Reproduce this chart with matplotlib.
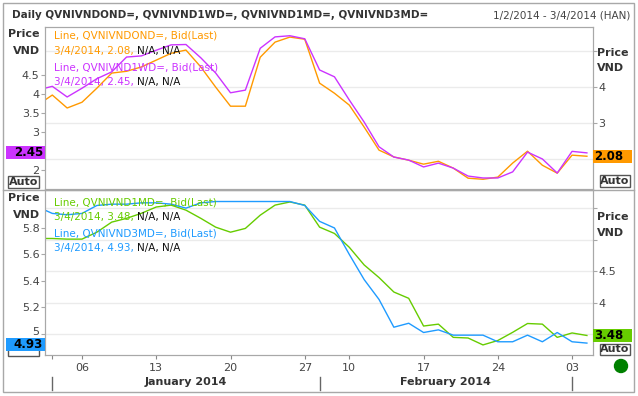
import numpy as np
import matplotlib.pyplot as plt
from matplotlib.patches import Rectangle, Circle
from matplotlib.lines import Line2D
from matplotlib.transforms import IdentityTransform, blended_transform_factory, ScaledTranslation

# trading days (Tet holiday gap between 1/27 and 2/6)
days = ["12/31", "1/2", "1/3", "1/6", "1/7", "1/8", "1/9", "1/10", "1/13", "1/14",
        "1/15", "1/16", "1/17", "1/20", "1/21", "1/22", "1/23", "1/24", "1/27",
        "2/6", "2/7", "2/10", "2/11", "2/12", "2/13", "2/14", "2/17", "2/18",
        "2/19", "2/20", "2/21", "2/24", "2/25", "2/26", "2/27", "2/28", "3/3", "3/4"]

ond = [3.50, 3.78, 3.42, 3.58, 3.97, 4.39, 4.44, 4.56, 4.75, 4.94, 5.03, 4.56, 4.00,
       3.47, 3.47, 4.83, 5.25, 5.39, 5.33, 4.11, 3.83, 3.50, 2.89, 2.25, 2.06, 1.97,
       1.86, 1.94, 1.75, 1.47, 1.44, 1.50, 1.89, 2.22, 1.83, 1.61, 2.11, 2.08]
wd1 = [4.10, 4.20, 3.92, 4.15, 4.40, 4.58, 4.97, 5.00, 5.15, 5.29, 5.30, 4.95, 4.55,
       4.03, 4.10, 5.20, 5.50, 5.53, 5.45, 4.63, 4.45, 3.84, 3.26, 2.61, 2.34, 2.26,
       2.08, 2.18, 2.05, 1.84, 1.79, 1.79, 1.95, 2.47, 2.29, 1.92, 2.49, 2.45]
md1 = [5.02, 5.02, 5.01, 5.01, 5.12, 5.28, 5.34, 5.42, 5.52, 5.55, 5.47, 5.34, 5.20,
       5.12, 5.18, 5.39, 5.55, 5.60, 5.55, 5.20, 5.10, 4.88, 4.60, 4.40, 4.17, 4.07,
       3.63, 3.66, 3.45, 3.44, 3.33, 3.40, 3.53, 3.67, 3.66, 3.45, 3.52, 3.48]
md3 = [5.96, 5.91, 5.90, 5.91, 5.97, 5.98, 5.98, 5.99, 5.99, 5.98, 5.95, 5.99, 6.00,
       6.00, 6.00, 6.00, 6.00, 6.00, 5.97, 5.85, 5.80, 5.60, 5.41, 5.26, 5.05, 5.08,
       5.01, 5.03, 4.99, 4.99, 4.99, 4.94, 4.94, 4.99, 4.94, 5.01, 4.94, 4.93]

week_idx = [3, 8, 13, 18, 21, 26, 31, 36]
week_lbl = ["06", "13", "20", "27", "10", "17", "24", "03"]
month_idx = [1, 19, 36]
months = ["January 2014", "February 2014"]

c_ond, c_wd1, c_md1, c_md3 = "#ff9900", "#cc33ff", "#66cc00", "#1f9bff"
gray = "#a8a8a8"
W, H = 638, 396
x = np.arange(len(days))

fig = plt.figure(figsize=(W / 100, H / 100), dpi=100)

def fr(px, py):
    return px / W, 1 - py / H

def panel(top, bottom):
    l, b = fr(45, bottom)
    ax = fig.add_axes([l, b, 548 / W, (bottom - top) / H])
    axr = ax.twinx()
    ax.set_zorder(2)
    axr.set_zorder(1)
    ax.patch.set_visible(False)
    for a in (ax, axr):
        a.set_xlim(0.508, 37.41)
        a.set_xticks(week_idx)
        a.tick_params(axis="x", length=0, labelbottom=False)
        a.tick_params(axis="y", length=3, color=gray, labelsize=8, labelcolor="#444", pad=1)
        for s in a.spines.values():
            s.set_color(gray)
    axr.grid(True, color="#ebebeb", lw=1)
    return ax, axr

ax1, ax1r = panel(27, 189)
ax2, ax2r = panel(190, 355)

ax1.plot(x, wd1, color=c_wd1, lw=1.0)
ax1r.plot(x, ond, color=c_ond, lw=1.0)
ax2.plot(x, md3, color=c_md3, lw=1.0)
ax2r.plot(x, md1, color=c_md1, lw=1.0)

# labels hidden under the last-value boxes are left blank
ax1.set_ylim(1.5, 5.76)
ax1.set_yticks([2, 2.5, 3, 3.5, 4, 4.5], ["2", "", "3", "3.5", "4", "4.5"])
ax1r.set_ylim(1.17, 5.67)
ax1r.set_yticks([2, 3, 4, 5], ["", "3", "4", ""])
ax2.set_ylim(4.84, 6.087)
ax2.set_yticks([5, 5.2, 5.4, 5.6, 5.8], ["5", "5.2", "5.4", "5.6", "5.8"])
ax2r.set_ylim(3.17, 5.79)
ax2r.set_yticks([3.5, 4, 4.5, 5, 5.5], ["", "4", "4.5", "", ""])

# the "5" label sits a little above its tick, clear of the 4.93 box
lab5 = ax2.get_yticklabels()[0]
lab5.set_transform(lab5.get_transform() + ScaledTranslation(0, 3 / 100, fig.dpi_scale_trans))

# x axis labels under bottom panel
ax2.set_xticks(week_idx + [1], week_lbl + [""])
ax2.tick_params(axis="x", length=3, color="#888", labelbottom=True, labelsize=8,
                labelcolor="#444", pad=3)
bt = blended_transform_factory(ax2.transData, ax2.transAxes)
for i in month_idx:
    ax2.add_line(Line2D([i, i], [-0.133, -0.212], transform=bt, color="#666", lw=1, clip_on=False))
for (a, b), m in zip(zip(month_idx[:-1], month_idx[1:]), months):
    ax2.text((a + b) / 2, -0.164, m, transform=bt, ha="center", va="center",
             fontsize=8, fontweight="bold", color="#333")

# legend texts
def legend(ax, y_top, y_bot, lines):
    for py, (t1, col, t2) in lines:
        yy = (y_bot - py) / (y_bot - y_top)
        t = ax.text((54 - 45) / 548, yy, t1, transform=ax.transAxes, color=col,
                    fontsize=7.5, va="center", zorder=5)
        if t2:
            ax.annotate(t2, xy=(1, 0.5), xycoords=t, va="center", fontsize=7.5,
                        color="#111", zorder=5)

legend(ax1, 27, 189, [(36, ("Line, QVNIVNDOND=, Bid(Last)", c_ond, None)),
                      (51, ("3/4/2014, 2.08, ", c_ond, "N/A, N/A")),
                      (67, ("Line, QVNIVND1WD=, Bid(Last)", c_wd1, None)),
                      (82, ("3/4/2014, 2.45, ", c_wd1, "N/A, N/A"))])
legend(ax2, 190, 355, [(202, ("Line, QVNIVND1MD=, Bid(Last)", c_md1, None)),
                       (217, ("3/4/2014, 3.48, ", c_md1, "N/A, N/A")),
                       (233, ("Line, QVNIVND3MD=, Bid(Last)", c_md3, None)),
                       (248, ("3/4/2014, 4.93, ", c_md3, "N/A, N/A"))])

ident = IdentityTransform()

def auto_box(x0, y0, x1, y1, label=True):
    fig.add_artist(Rectangle((x0, H - y1), x1 - x0, y1 - y0, transform=ident,
                             fc="white", ec="#555", lw=1, zorder=5))
    if label:
        fig.text((x0 + x1) / 2, H - (y0 + y1) / 2, "Auto", transform=ident, ha="center",
                 va="center", fontsize=8, fontweight="bold", color="#333", zorder=6)

def value_box(ax, v, x0, x1, col, side, dy=0):
    yd = ax.transData.transform((1, v))[1] + dy
    fig.add_artist(Rectangle((x0, yd - 6.5), x1 - x0, 13, transform=ident,
                             fc=col, ec="none", zorder=7))
    if side == "left":
        fig.text(x1 - 2, yd, f"{v:.2f}", transform=ident, ha="right", va="center",
                 fontsize=8.5, fontweight="bold", color="black", zorder=8)
    else:
        fig.text(x0 + 1, yd, f"{v:.2f}", transform=ident, ha="left", va="center",
                 fontsize=8.5, fontweight="bold", color="black", zorder=8)

auto_box(8, 176, 39, 188)
auto_box(600, 175, 630, 187)
auto_box(8, 343, 39, 356, label=False)  # covered by the 4.93 box
auto_box(600, 344, 630, 355)
value_box(ax1, wd1[-1], 6, 45, c_wd1, "left")
value_box(ax1r, ond[-1], 593, 632, c_ond, "right")
value_box(ax2, md3[-1], 6, 45, c_md3, "left", dy=-1)
value_box(ax2r, md1[-1], 593, 632, c_md1, "right")

# axis captions
for py in (34, 51, 198, 215):
    fig.text(*fr(40, py), "Price" if py in (34, 198) else "VND", ha="right", va="center",
             fontsize=8, fontweight="bold", color="#333")
for py in (53, 68, 217, 233):
    fig.text(*fr(597, py), "Price" if py in (53, 217) else "VND", ha="left", va="center",
             fontsize=8, fontweight="bold", color="#333")

# title row
fig.text(*fr(12, 15), "Daily QVNIVNDOND=, QVNIVND1WD=, QVNIVND1MD=, QVNIVND3MD=",
         ha="left", va="center", fontsize=7.5, fontweight="bold", color="#333")
fig.text(*fr(630, 15), "1/2/2014 - 3/4/2014 (HAN)", ha="right", va="center",
         fontsize=7.5, color="#444")

# frame, divider and status dot
fig.add_artist(Rectangle((3, H - 392), 631, 389, transform=ident, fill=False,
                         ec=gray, lw=1, zorder=9))
fig.add_artist(Line2D([3, 634], [H - 189.5, H - 189.5], transform=ident, color=gray, lw=1, zorder=9))
fig.add_artist(Circle((621, H - 366), 6.5, transform=ident, color="#008000", zorder=9))

fig.savefig("out.png", dpi=100)
